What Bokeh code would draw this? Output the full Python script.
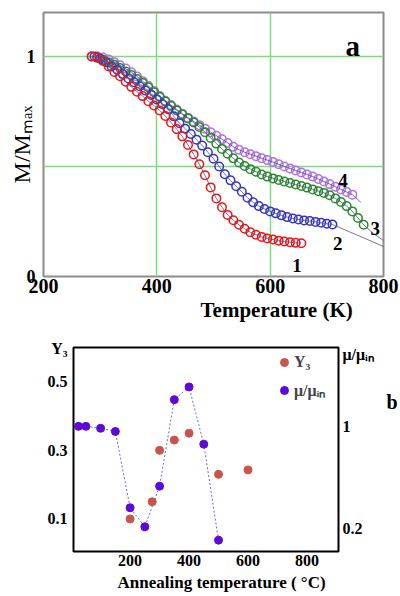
from bokeh.plotting import figure
from bokeh.models import Range1d, LinearAxis, FixedTicker, Label, Legend, LegendItem, Title
from bokeh.embed import file_html
from bokeh.resources import INLINE

SERIF = "Liberation Serif"

# ---------------- panel (a): M/Mmax vs Temperature (K) ----------------
t1 = [285, 295, 305, 315, 325, 335, 345, 355, 365, 375, 385, 395, 405, 415, 425, 435, 445, 455, 465,
      475, 485, 495, 505, 515, 525, 535, 545, 555, 565, 575, 585, 595, 605, 615, 625, 635, 645, 655]
m1 = [1.0, 0.995, 0.98, 0.955, 0.93, 0.91, 0.885, 0.862, 0.84, 0.82, 0.797, 0.777, 0.755, 0.73, 0.70,
      0.67, 0.637, 0.598, 0.555, 0.51, 0.46, 0.405, 0.355, 0.315, 0.28, 0.256, 0.235, 0.217, 0.201,
      0.19, 0.18, 0.173, 0.168, 0.163, 0.159, 0.156, 0.153, 0.151]

t2 = [290, 300, 310, 320, 330, 340, 350, 360, 370, 380, 390, 400, 410, 420, 430, 440, 450, 460, 470,
      480, 490, 500, 510, 520, 530, 540, 550, 560, 570, 580, 590, 600, 610, 620, 630, 640, 650, 660,
      670, 680, 690, 700, 710]
m2 = [1.0, 0.99, 0.975, 0.955, 0.94, 0.92, 0.90, 0.883, 0.865, 0.845, 0.825, 0.805, 0.783, 0.76,
      0.728, 0.697, 0.672, 0.648, 0.622, 0.595, 0.565, 0.535, 0.50, 0.465, 0.437, 0.41, 0.385, 0.358,
      0.337, 0.32, 0.307, 0.296, 0.287, 0.278, 0.27, 0.264, 0.259, 0.255, 0.252, 0.248, 0.244, 0.24,
      0.236]
fit2_t = [740, 770, 800]
fit2_m = [0.203, 0.17, 0.136]

t3 = [285, 295, 305, 315, 325, 335, 345, 355, 365, 375, 385, 395, 405, 415, 425, 435, 445, 455, 465,
      475, 485, 495, 505, 515, 525, 535, 545, 555, 565, 575, 585, 595, 605, 615, 625, 635, 645, 655,
      665, 675, 685, 695, 705, 715, 725, 735, 745, 755, 765]
m3 = [1.0, 0.995, 0.985, 0.973, 0.962, 0.948, 0.932, 0.916, 0.898, 0.88, 0.86, 0.838, 0.816, 0.795,
      0.775, 0.755, 0.736, 0.718, 0.70, 0.68, 0.656, 0.63, 0.604, 0.58, 0.558, 0.537, 0.518, 0.502,
      0.488, 0.476, 0.464, 0.454, 0.446, 0.439, 0.432, 0.425, 0.418, 0.411, 0.404, 0.396, 0.388,
      0.38, 0.369, 0.355, 0.339, 0.32, 0.296, 0.266, 0.235]
fit3_t = [780, 800]
fit3_m = [0.2, 0.163]

t4 = [295, 305, 315, 325, 335, 345, 355, 365, 375, 385, 395, 405, 415, 425, 435, 445, 455, 465, 475,
      485, 495, 505, 515, 525, 535, 545, 555, 565, 575, 585, 595, 605, 615, 625, 635, 645, 655, 665,
      675, 685, 695, 705, 715, 725, 735, 745]
m4 = [1.0, 0.995, 0.986, 0.974, 0.96, 0.945, 0.928, 0.909, 0.888, 0.866, 0.843, 0.82, 0.799, 0.779,
      0.759, 0.74, 0.722, 0.705, 0.688, 0.672, 0.656, 0.64, 0.624, 0.607, 0.59, 0.576, 0.565, 0.556,
      0.547, 0.538, 0.529, 0.52, 0.51, 0.50, 0.491, 0.482, 0.473, 0.464, 0.454, 0.443, 0.432, 0.42,
      0.408, 0.396, 0.384, 0.372]
fit4_t = [760]
fit4_m = [0.337]

a_xticks = [200, 400, 600, 800]
a_yticks = [0, 1]
a_xgrid = [400, 600]
a_ygrid = [0.5, 1.0]
curve_names = ["1", "2", "3", "4"]

# ---------------- panel (b): Y3 and mu/mu_in vs annealing temperature ----------------
anneal_y3 = [200, 275, 300, 350, 400, 500, 600]
y3 = [0.10, 0.15, 0.30, 0.33, 0.35, 0.23, 0.243]
anneal_mu = [25, 50, 100, 150, 200, 250, 300, 350, 400, 450, 500]
mu = [1.0, 1.0, 0.985, 0.96, 0.36, 0.21, 0.53, 1.21, 1.31, 0.86, 0.105]
b_xticks = [200, 400, 600, 800]
b_yticks = [0.1, 0.3, 0.5]
b_mu_ticks = [0.2, 1]

C_RED, C_BLUE, C_GREEN, C_VIOLET = "#f01414", "#3434c8", "#2a8a2a", "#b070e6"
C_FIT = "#50508a"
C_Y3, C_MU = "#c9544c", "#5c0ad8"


def lab(p, x, y, text, size, style="bold", align="left"):
    p.add_layout(Label(x=x, y=y, text=text, text_font=SERIF, text_font_size=f"{size}px",
                       text_font_style=style, text_align=align, text_baseline="alphabetic",
                       text_color="black"))


def style_axis(ax, size, standoff):
    ax.axis_line_color = None
    ax.major_tick_in = 0
    ax.major_tick_out = 0
    ax.minor_tick_line_color = None
    ax.major_label_text_font = SERIF
    ax.major_label_text_font_style = "bold"
    ax.major_label_text_font_size = f"{size}px"
    ax.major_label_text_color = "black"
    ax.major_label_standoff = standoff


# ---------------- figure a ----------------
p1 = figure(width=400, height=326, x_range=Range1d(200, 800), y_range=Range1d(0, 1.2),
            toolbar_location=None, output_backend="svg", min_border_left=43,
            min_border_right=17, min_border_top=12, min_border_bottom=50)
p1.xgrid.ticker = FixedTicker(ticks=a_xgrid)
p1.ygrid.ticker = FixedTicker(ticks=a_ygrid)
p1.grid.grid_line_color = "#7ddc7d"
p1.grid.grid_line_width = 1.5
p1.outline_line_color = "#8c8c8c"
p1.outline_line_width = 2

style_axis(p1.xaxis[0], 20, 2)
p1.xaxis.ticker = FixedTicker(ticks=a_xticks)
style_axis(p1.yaxis[0], 18, 8)
p1.yaxis.ticker = FixedTicker(ticks=a_yticks)
p1.yaxis.axis_label = "M/M\u2098\u2090\u2093"
p1.yaxis.axis_label_text_font = SERIF
p1.yaxis.axis_label_text_font_style = "normal"
p1.yaxis.axis_label_text_font_size = "24px"
p1.yaxis.axis_label_text_color = "black"
p1.yaxis.axis_label_standoff = -11

p1.add_layout(Title(text="Temperature (K)", align="left", offset=157, standoff=0,
                    text_font=SERIF, text_font_style="bold", text_font_size="21px",
                    text_color="black"), "below")

for t, m, c in [(t4, m4, C_VIOLET), (t3, m3, C_GREEN), (t2, m2, C_BLUE), (t1, m1, C_RED)]:
    p1.scatter(t, m, marker="circle", size=8.5, fill_color=None, line_color=c, line_width=1.5)

p1.line(t1, m1, line_color=C_FIT, line_width=0.8)
p1.line(t2 + fit2_t, m2 + fit2_m, line_color=C_FIT, line_width=0.8)
p1.line(t3 + fit3_t, m3 + fit3_m, line_color=C_FIT, line_width=0.8)
p1.line(t4 + fit4_t, m4 + fit4_m, line_color=C_FIT, line_width=0.8)

lab(p1, 733, 1.05, "a", 29)
lab(p1, 639, 0.05, curve_names[0], 19)
lab(p1, 711, 0.149, curve_names[1], 19)
lab(p1, 777, 0.217, curve_names[2], 19)
lab(p1, 720, 0.436, curve_names[3], 19)

# ---------------- figure b ----------------
p2 = figure(width=400, height=270, x_range=Range1d(8, 907), y_range=Range1d(0.005, 0.6),
            toolbar_location=None, output_backend="svg", min_border_left=73,
            min_border_right=61, min_border_top=21, min_border_bottom=45)
p2.extra_y_ranges = {"mu": Range1d(0.016, 1.62)}
p2.grid.visible = False
p2.outline_line_color = "black"
p2.outline_line_width = 2

Y3_POS = 0.598      # axis-name slot at the top of the left axis
MU_NAME_POS = 1.564  # axis-name slot at the top of the right axis
B_POS = 1.189        # panel letter slot

style_axis(p2.xaxis[0], 16, 3)
p2.xaxis.ticker = FixedTicker(ticks=b_xticks)
style_axis(p2.yaxis[0], 16, 6)
p2.yaxis.ticker = FixedTicker(ticks=b_yticks + [Y3_POS])
p2.yaxis.major_label_overrides = {Y3_POS: "Y\u2083"}

yax = LinearAxis(y_range_name="mu", ticker=FixedTicker(ticks=b_mu_ticks + [MU_NAME_POS]),
                 major_label_overrides={1: "1", MU_NAME_POS: "\u03bc/\u03bc\u1d62\u2099"})
style_axis(yax, 16, 4)
p2.add_layout(yax, "right")

bax = LinearAxis(y_range_name="mu", ticker=FixedTicker(ticks=[B_POS]),
                 major_label_overrides={B_POS: "b"})
style_axis(bax, 20, 10)
p2.add_layout(bax, "right")

p2.add_layout(Title(text="Annealing temperature ( \u00b0C)", align="left", offset=44, standoff=5,
                    text_font=SERIF, text_font_style="bold", text_font_size="17px",
                    text_color="black"), "below")

p2.line(anneal_mu, mu, y_range_name="mu", line_color="#6a6ad8", line_width=1, line_dash="2 2")
r_y3 = p2.scatter(anneal_y3, y3, marker="circle", size=8, color=C_Y3)
r_mu = p2.scatter(anneal_mu, mu, marker="circle", size=8, color=C_MU, y_range_name="mu")

legend = Legend(items=[LegendItem(label="Y\u2083", renderers=[r_y3]),
                       LegendItem(label="\u03bc/\u03bc\u1d62\u2099", renderers=[r_mu])],
                location=(201, 150), padding=8, spacing=7, margin=0,
                glyph_width=20, glyph_height=20, label_standoff=0,
                label_text_font=SERIF, label_text_font_style="bold",
                label_text_font_size="16px", border_line_color=None,
                background_fill_alpha=0)
p2.add_layout(legend)

open("out.html", "w").write(file_html([p1, p2], INLINE))
